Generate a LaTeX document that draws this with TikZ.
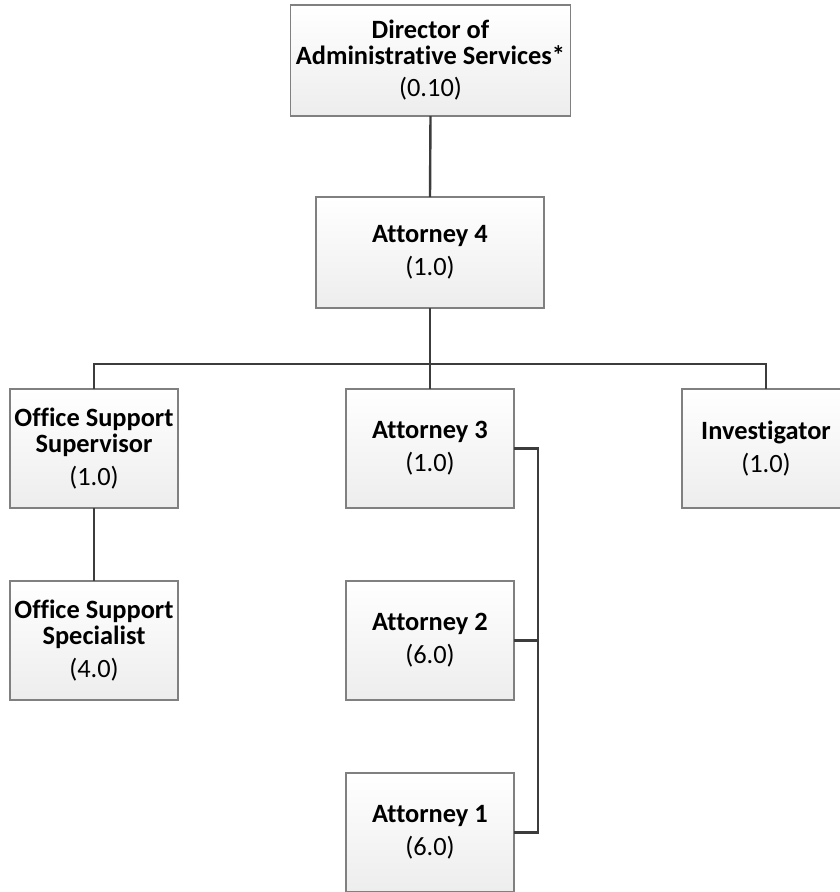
\documentclass[tikz,border=0pt]{standalone}
\usepackage{fontspec}
\setmainfont{Carlito}[Ligatures=NoCommon]
\definecolor{boxborder}{HTML}{808080}
\definecolor{boxfill}{HTML}{EDEDED}
\definecolor{linkcol}{HTML}{3C3C3C}
\begin{document}
\begin{tikzpicture}[x=1pt,y=-1pt,
  box/.style={draw=boxborder, line width=1.3pt, top color=white, bottom color=boxfill,
    inner sep=0pt, outer sep=0pt, align=center, text=black,
    font=\fontsize{26.4}{26}\selectfont},
  smallbox/.style={box, minimum width=168pt, minimum height=119pt},
  link/.style={draw=linkcol, line width=2.4pt}
]
\useasboundingbox (0,0) rectangle (840,892);
% boxes
\node[box, minimum width=280pt, minimum height=111pt] (dir) at (430.5,60.5) {\textbf{Director of}\\\textbf{Administrative Services*}\\[6pt](0.10)};
\node[box, minimum width=228pt, minimum height=111pt] (a4) at (430,252.5) {\textbf{Attorney 4}\\[7pt](1.0)};
\node[smallbox] (oss) at (94,448.5) {\textbf{Office Support}\\\textbf{Supervisor}\\[7pt](1.0)};
\node[smallbox] (a3) at (430,448.5) {\textbf{Attorney 3}\\[7pt](1.0)};
\node[smallbox] (inv) at (766,448.5) {\textbf{Investigator}\\[7pt](1.0)};
\node[smallbox] (ospec) at (94,640.5) {\textbf{Office Support}\\\textbf{Specialist}\\[7pt](4.0)};
\node[smallbox] (a2) at (430,640.5) {\textbf{Attorney 2}\\[7pt](6.0)};
\node[smallbox] (a1) at (430,832.5) {\textbf{Attorney 1}\\[7pt](6.0)};
% connectors
\coordinate (bus) at (430,364);
\coordinate (rail) at (538,0);
\draw[link] (dir.south) -- (a4.north);
\draw[link] (a4.south) -- (bus);
\draw[link] (oss.north) |- (bus) -| (inv.north);
\draw[link] (bus) -- (a3.north);
\draw[link] (oss.south) -- (ospec.north);
\draw[link] (a3.east) -| (rail |- a1.east) -- (a1.east);
\draw[link] (a2.east) -- (rail |- a2.east);
\end{tikzpicture}
\end{document}
